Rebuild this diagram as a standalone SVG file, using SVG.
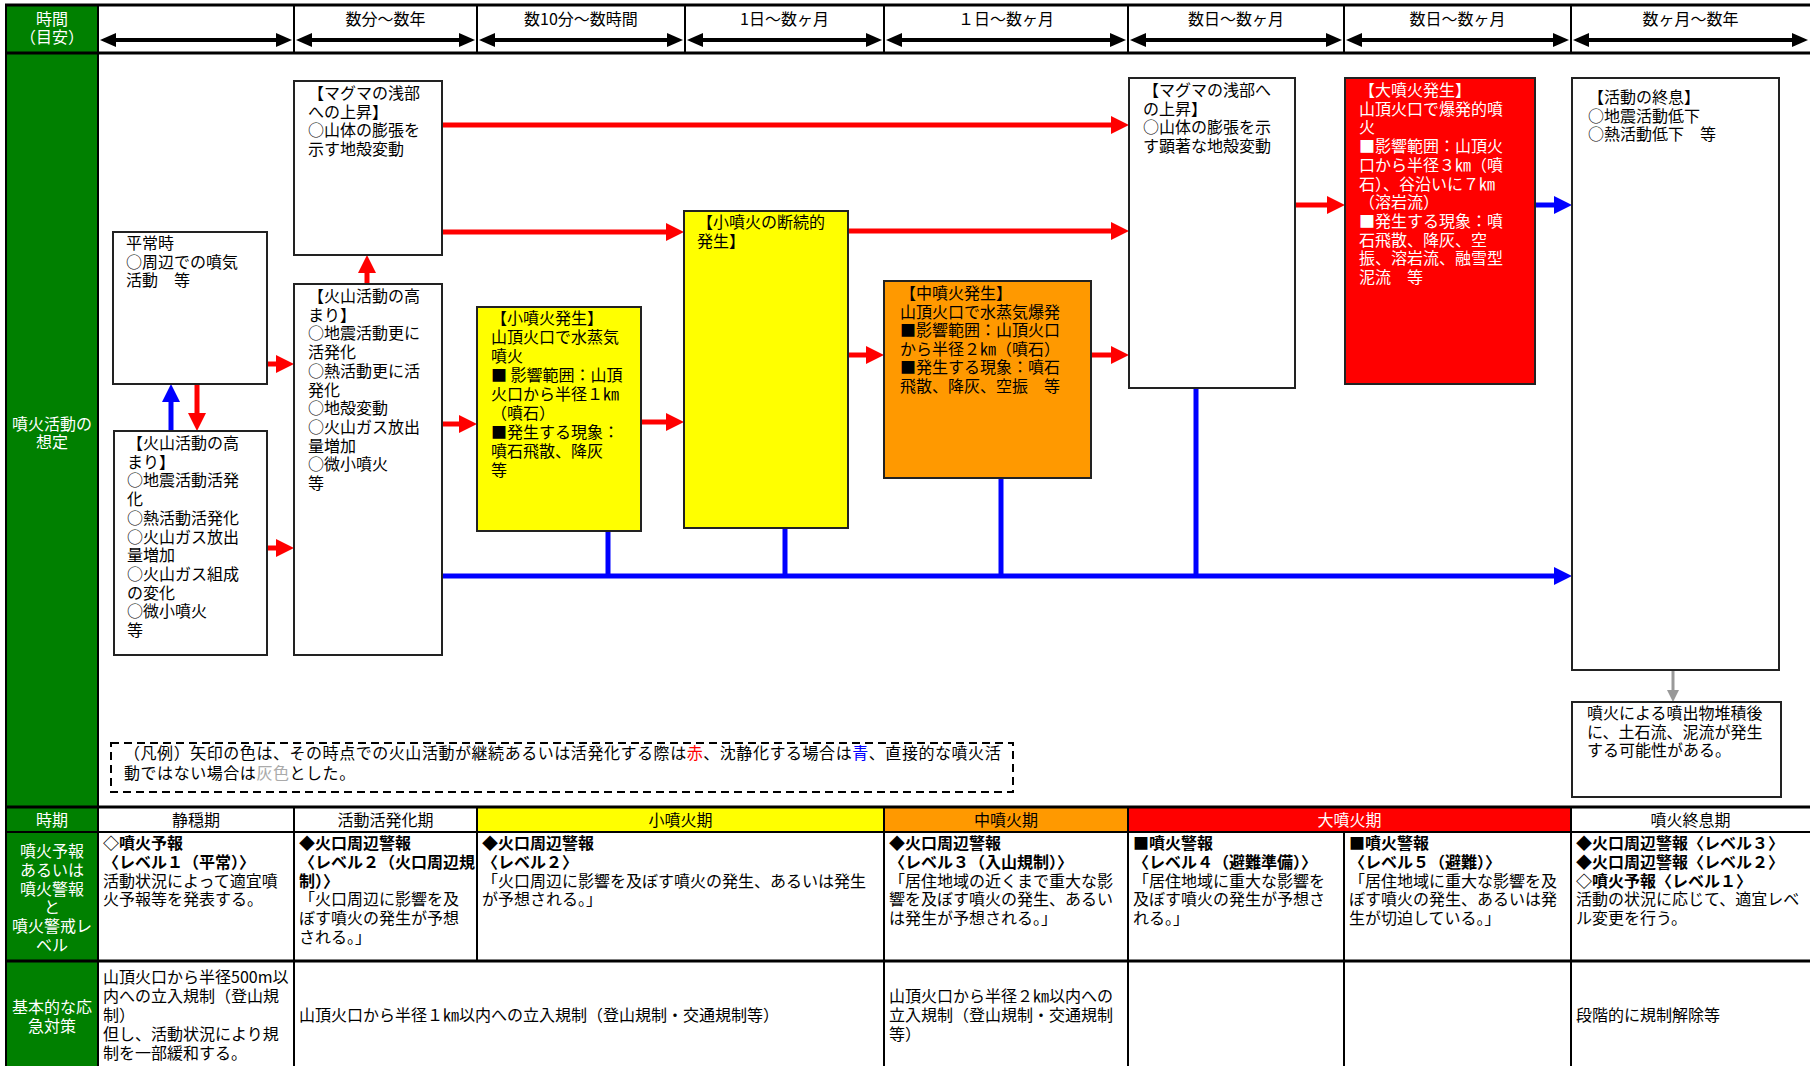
<svg xmlns="http://www.w3.org/2000/svg" width="1810" height="1066" viewBox="0 0 1810 1066">
<style>
text{font-family:"Noto Sans CJK JP","Noto Sans CJK SC",sans-serif;font-size:16px;fill:#000}
.w{fill:#fff}
.b{font-weight:bold}
.c{text-anchor:middle}
.box{stroke:#222;stroke-width:2}
.grid{stroke:#000;fill:none}
.r{stroke:#f00;stroke-width:5;fill:none}
.bl{stroke:#00f;stroke-width:5;fill:none}
.k{stroke:#000;stroke-width:4;fill:none}
.g{stroke:#999;stroke-width:3;fill:none}
.ra{marker-end:url(#arrR)}
.ba{marker-end:url(#arrB)}
</style>
<defs>
<marker id="arrR" markerUnits="userSpaceOnUse" markerWidth="18" markerHeight="18" refX="6" refY="9" orient="auto"><path d="M0,0 L18,9 L0,18 z" fill="#f00"/></marker>
<marker id="arrB" markerUnits="userSpaceOnUse" markerWidth="18" markerHeight="18" refX="6" refY="9" orient="auto"><path d="M0,0 L18,9 L0,18 z" fill="#00f"/></marker>
<marker id="arrG" markerUnits="userSpaceOnUse" markerWidth="12" markerHeight="12" refX="4" refY="6" orient="auto"><path d="M0,0 L12,6 L0,12 z" fill="#999"/></marker>
<marker id="arrK" markerUnits="userSpaceOnUse" markerWidth="16" markerHeight="14" refX="6" refY="7" orient="auto-start-reverse"><path d="M0,0 L16,7 L0,14 z" fill="#000"/></marker>
</defs>
<rect width="1810" height="1066" fill="#fff"/>

<g id="table">
<rect x="6" y="5" width="92" height="1061" fill="#008000"/>
<rect x="477" y="807" width="407" height="25" fill="#ff0"/>
<rect x="884" y="807" width="244" height="25" fill="#f90"/>
<rect x="1128" y="807" width="443" height="25" fill="#f00"/>
<g class="grid">
<line x1="5" y1="5" x2="1810" y2="5" stroke-width="3"/>
<line x1="5" y1="53" x2="1810" y2="53" stroke-width="3"/>
<line x1="5" y1="807" x2="1810" y2="807" stroke-width="3"/>
<line x1="5" y1="832" x2="1810" y2="832" stroke-width="2"/>
<line x1="5" y1="961" x2="1810" y2="961" stroke-width="3"/>
<line x1="6" y1="5" x2="6" y2="1066" stroke-width="2"/>
<line x1="98" y1="5" x2="98" y2="1066" stroke-width="2"/>
<line x1="294" y1="5" x2="294" y2="53" stroke-width="2"/>
<line x1="477" y1="5" x2="477" y2="53" stroke-width="2"/>
<line x1="685" y1="5" x2="685" y2="53" stroke-width="2"/>
<line x1="884" y1="5" x2="884" y2="53" stroke-width="2"/>
<line x1="1128" y1="5" x2="1128" y2="53" stroke-width="2"/>
<line x1="1344" y1="5" x2="1344" y2="53" stroke-width="2"/>
<line x1="1571" y1="5" x2="1571" y2="53" stroke-width="2"/>
<line x1="294" y1="807" x2="294" y2="1066" stroke-width="2"/>
<line x1="477" y1="807" x2="477" y2="961" stroke-width="2"/>
<line x1="884" y1="807" x2="884" y2="1066" stroke-width="2"/>
<line x1="1128" y1="807" x2="1128" y2="1066" stroke-width="2"/>
<line x1="1344" y1="832" x2="1344" y2="1066" stroke-width="2"/>
<line x1="1571" y1="807" x2="1571" y2="1066" stroke-width="2"/>
</g>
<g class="k">
<line x1="110" y1="40" x2="282" y2="40" marker-start="url(#arrK)" marker-end="url(#arrK)"/>
<line x1="306" y1="40" x2="465" y2="40" marker-start="url(#arrK)" marker-end="url(#arrK)"/>
<line x1="489" y1="40" x2="673" y2="40" marker-start="url(#arrK)" marker-end="url(#arrK)"/>
<line x1="697" y1="40" x2="872" y2="40" marker-start="url(#arrK)" marker-end="url(#arrK)"/>
<line x1="896" y1="40" x2="1116" y2="40" marker-start="url(#arrK)" marker-end="url(#arrK)"/>
<line x1="1140" y1="40" x2="1332" y2="40" marker-start="url(#arrK)" marker-end="url(#arrK)"/>
<line x1="1356" y1="40" x2="1559" y2="40" marker-start="url(#arrK)" marker-end="url(#arrK)"/>
<line x1="1583" y1="40" x2="1798" y2="40" marker-start="url(#arrK)" marker-end="url(#arrK)"/>
</g>
<text class="w c" x="52" y="25">時間</text>
<text class="w c" x="52" y="43">（目安）</text>
<text class="c" x="385.5" y="25">数分～数年</text>
<text class="c" x="581" y="25">数10分～数時間</text>
<text class="c" x="784.5" y="25">1日～数ヶ月</text>
<text class="c" x="1006" y="25">１日～数ヶ月</text>
<text class="c" x="1236" y="25">数日～数ヶ月</text>
<text class="c" x="1457.5" y="25">数日～数ヶ月</text>
<text class="c" x="1690.5" y="25">数ヶ月～数年</text>

<text class="w c" x="52" y="430">噴火活動の</text>
<text class="w c" x="52" y="448">想定</text>

<text class="w c" x="52" y="826">時期</text>
<text class="c" x="196" y="826">静穏期</text>
<text class="c" x="385.5" y="826">活動活発化期</text>
<text class="c" x="680.5" y="826">小噴火期</text>
<text class="c" x="1006" y="826">中噴火期</text>
<text class="w c" x="1349.5" y="826">大噴火期</text>
<text class="c" x="1690.5" y="826">噴火終息期</text>

<text class="w c" x="52" y="857">噴火予報<tspan x="52" dy="18.8">あるいは</tspan><tspan x="52" dy="18.8">噴火警報</tspan><tspan x="52" dy="18.8">と</tspan><tspan x="52" dy="18.8">噴火警戒レ</tspan><tspan x="52" dy="18.8">ベル</tspan></text>
<text x="103" y="849"><tspan class="b">◇噴火予報</tspan><tspan class="b" x="103" dy="18.8">〈レベル１（平常）〉</tspan><tspan x="103" dy="18.8">活動状況によって適宜噴</tspan><tspan x="103" dy="18.8">火予報等を発表する。</tspan></text>
<text x="299" y="849"><tspan class="b">◆火口周辺警報</tspan><tspan class="b" x="299" dy="18.8">〈レベル２（火口周辺規</tspan><tspan class="b" x="299" dy="18.8">制）〉</tspan><tspan x="299" dy="18.8">「火口周辺に影響を及</tspan><tspan x="299" dy="18.8">ぼす噴火の発生が予想</tspan><tspan x="299" dy="18.8">される。」</tspan></text>
<text x="482" y="849"><tspan class="b">◆火口周辺警報</tspan><tspan class="b" x="482" dy="18.8">〈レベル２〉</tspan><tspan x="482" dy="18.8">「火口周辺に影響を及ぼす噴火の発生、あるいは発生</tspan><tspan x="482" dy="18.8">が予想される。」</tspan></text>
<text x="889" y="849"><tspan class="b">◆火口周辺警報</tspan><tspan class="b" x="889" dy="18.8">〈レベル３（入山規制）〉</tspan><tspan x="889" dy="18.8">「居住地域の近くまで重大な影</tspan><tspan x="889" dy="18.8">響を及ぼす噴火の発生、あるい</tspan><tspan x="889" dy="18.8">は発生が予想される。」</tspan></text>
<text x="1133" y="849"><tspan class="b">■噴火警報</tspan><tspan class="b" x="1133" dy="18.8">〈レベル４（避難準備）〉</tspan><tspan x="1133" dy="18.8">「居住地域に重大な影響を</tspan><tspan x="1133" dy="18.8">及ぼす噴火の発生が予想さ</tspan><tspan x="1133" dy="18.8">れる。」</tspan></text>
<text x="1349" y="849"><tspan class="b">■噴火警報</tspan><tspan class="b" x="1349" dy="18.8">〈レベル５（避難）〉</tspan><tspan x="1349" dy="18.8">「居住地域に重大な影響を及</tspan><tspan x="1349" dy="18.8">ぼす噴火の発生、あるいは発</tspan><tspan x="1349" dy="18.8">生が切迫している。」</tspan></text>
<text x="1576" y="849"><tspan class="b">◆火口周辺警報〈レベル３〉</tspan><tspan class="b" x="1576" dy="18.8">◆火口周辺警報〈レベル２〉</tspan><tspan class="b" x="1576" dy="18.8">◇噴火予報〈レベル１〉</tspan><tspan x="1576" dy="18.8">活動の状況に応じて、適宜レベ</tspan><tspan x="1576" dy="18.8">ル変更を行う。</tspan></text>

<text class="w c" x="52" y="1013">基本的な応<tspan x="52" dy="18.8">急対策</tspan></text>
<text x="103" y="983">山頂火口から半径500m以<tspan x="103" dy="18.9">内への立入規制（登山規</tspan><tspan x="103" dy="18.9">制）</tspan><tspan x="103" dy="18.9">但し、活動状況により規</tspan><tspan x="103" dy="18.9">制を一部緩和する。</tspan></text>
<text x="299" y="1021">山頂火口から半径１㎞以内への立入規制（登山規制・交通規制等）</text>
<text x="889" y="1002">山頂火口から半径２㎞以内への<tspan x="889" dy="18.9">立入規制（登山規制・交通規制</tspan><tspan x="889" dy="18.9">等）</tspan></text>
<text x="1576" y="1021">段階的に規制解除等</text>
</g>

<g id="connectors">
<line class="r ra" x1="442" y1="125" x2="1117" y2="125"/>
<line class="r ra" x1="442" y1="232" x2="672" y2="232"/>
<line class="r ra" x1="848" y1="231" x2="1117" y2="231"/>
<line class="r ra" x1="1091" y1="355" x2="1117" y2="355"/>
<line class="r ra" x1="1295" y1="205" x2="1333" y2="205"/>
<line class="bl ba" x1="1535" y1="205" x2="1560" y2="205"/>
<line class="r ra" x1="267" y1="364" x2="282" y2="364"/>
<line class="r ra" x1="267" y1="548" x2="282" y2="548"/>
<line class="r ra" x1="442" y1="424" x2="465" y2="424"/>
<line class="r ra" x1="641" y1="422" x2="672" y2="422"/>
<line class="r ra" x1="848" y1="355" x2="872" y2="355"/>
<line class="r ra" x1="367" y1="284" x2="367" y2="267"/>
<line class="bl ba" x1="171" y1="431" x2="171" y2="396"/>
<line class="r ra" x1="197" y1="384" x2="197" y2="419"/>
<line class="bl" x1="608" y1="531" x2="608" y2="578"/>
<line class="bl" x1="785" y1="528" x2="785" y2="578"/>
<line class="bl" x1="1001" y1="478" x2="1001" y2="578"/>
<line class="bl" x1="1196" y1="388" x2="1196" y2="578"/>
<line class="bl ba" x1="442" y1="576" x2="1560" y2="576"/>
<line class="g" x1="1673" y1="670" x2="1673" y2="694" marker-end="url(#arrG)"/>
</g>

<g id="n-heijo">
<rect class="box" x="113" y="232" width="154" height="152" fill="#fff"/>
<text x="126" y="249">平常時<tspan x="126" dy="18.7">○周辺での噴気</tspan><tspan x="126" dy="18.7">活動　等</tspan></text>
</g>
<g id="n-takamari1">
<rect class="box" x="114" y="431" width="153" height="224" fill="#fff"/>
<text x="127" y="449">【火山活動の高<tspan x="127" dy="18.7">まり】</tspan><tspan x="127" dy="18.7">○地震活動活発</tspan><tspan x="127" dy="18.7">化</tspan><tspan x="127" dy="18.7">○熱活動活発化</tspan><tspan x="127" dy="18.7">○火山ガス放出</tspan><tspan x="127" dy="18.7">量増加</tspan><tspan x="127" dy="18.7">○火山ガス組成</tspan><tspan x="127" dy="18.7">の変化</tspan><tspan x="127" dy="18.7">○微小噴火</tspan><tspan x="127" dy="18.7">等</tspan></text>
</g>
<g id="n-magma1">
<rect class="box" x="294" y="81" width="148" height="174" fill="#fff"/>
<text x="308" y="99">【マグマの浅部<tspan x="308" dy="18.7">への上昇】</tspan><tspan x="308" dy="18.7">○山体の膨張を</tspan><tspan x="308" dy="18.7">示す地殻変動</tspan></text>
</g>
<g id="n-takamari2">
<rect class="box" x="294" y="284" width="148" height="371" fill="#fff"/>
<text x="308" y="302">【火山活動の高<tspan x="308" dy="18.7">まり】</tspan><tspan x="308" dy="18.7">○地震活動更に</tspan><tspan x="308" dy="18.7">活発化</tspan><tspan x="308" dy="18.7">○熱活動更に活</tspan><tspan x="308" dy="18.7">発化</tspan><tspan x="308" dy="18.7">○地殻変動</tspan><tspan x="308" dy="18.7">○火山ガス放出</tspan><tspan x="308" dy="18.7">量増加</tspan><tspan x="308" dy="18.7">○微小噴火</tspan><tspan x="308" dy="18.7">等</tspan></text>
</g>
<g id="n-shofunka">
<rect class="box" x="477" y="307" width="164" height="224" fill="#ff0"/>
<text x="491" y="324">【小噴火発生】<tspan x="491" dy="19">山頂火口で水蒸気</tspan><tspan x="491" dy="19">噴火</tspan><tspan x="491" dy="19">■ 影響範囲：山頂</tspan><tspan x="491" dy="19">火口から半径１㎞</tspan><tspan x="491" dy="19">（噴石）</tspan><tspan x="491" dy="19">■発生する現象：</tspan><tspan x="491" dy="19">噴石飛散、降灰</tspan><tspan x="491" dy="19">等</tspan></text>
</g>
<g id="n-danzoku">
<rect class="box" x="684" y="211" width="164" height="317" fill="#ff0"/>
<text x="697" y="228">【小噴火の断続的<tspan x="697" dy="18.7">発生】</tspan></text>
</g>
<g id="n-chufunka">
<rect class="box" x="884" y="281" width="207" height="197" fill="#f90"/>
<text x="900" y="299">【中噴火発生】<tspan x="900" dy="18.6">山頂火口で水蒸気爆発</tspan><tspan x="900" dy="18.6">■影響範囲：山頂火口</tspan><tspan x="900" dy="18.6">から半径２㎞（噴石）</tspan><tspan x="900" dy="18.6">■発生する現象：噴石</tspan><tspan x="900" dy="18.6">飛散、降灰、空振　等</tspan></text>
</g>
<g id="n-magma2">
<rect class="box" x="1129" y="78" width="166" height="310" fill="#fff"/>
<text x="1143" y="96">【マグマの浅部へ<tspan x="1143" dy="18.7">の上昇】</tspan><tspan x="1143" dy="18.7">○山体の膨張を示</tspan><tspan x="1143" dy="18.7">す顕著な地殻変動</tspan></text>
</g>
<g id="n-daifunka">
<rect class="box" x="1345" y="78" width="190" height="306" fill="#f00"/>
<text class="w" x="1359" y="96">【大噴火発生】<tspan x="1359" dy="18.7">山頂火口で爆発的噴</tspan><tspan x="1359" dy="18.7">火</tspan><tspan x="1359" dy="18.7">■影響範囲：山頂火</tspan><tspan x="1359" dy="18.7">口から半径３㎞（噴</tspan><tspan x="1359" dy="18.7">石）、谷沿いに７㎞</tspan><tspan x="1359" dy="18.7">（溶岩流）</tspan><tspan x="1359" dy="18.7">■発生する現象：噴</tspan><tspan x="1359" dy="18.7">石飛散、降灰、空</tspan><tspan x="1359" dy="18.7">振、溶岩流、融雪型</tspan><tspan x="1359" dy="18.7">泥流　等</tspan></text>
</g>
<g id="n-shusoku">
<rect class="box" x="1572" y="78" width="207" height="592" fill="#fff"/>
<text x="1588" y="103">【活動の終息】<tspan x="1588" dy="18.7">○地震活動低下</tspan><tspan x="1588" dy="18.7">○熱活動低下　等</tspan></text>
</g>
<g id="n-dosekiryu">
<rect class="box" x="1572" y="702" width="209" height="95" fill="#fff"/>
<text x="1587" y="719">噴火による噴出物堆積後<tspan x="1587" dy="18.7">に、土石流、泥流が発生</tspan><tspan x="1587" dy="18.7">する可能性がある。</tspan></text>
</g>
<g id="legend">
<rect x="111" y="743" width="902" height="49" fill="none" stroke="#000" stroke-width="2" stroke-dasharray="8,5"/>
<text x="124" y="759" letter-spacing="0.55">（凡例）矢印の色は、その時点での火山活動が継続あるいは活発化する際は<tspan fill="#f00">赤</tspan>、沈静化する場合は<tspan fill="#00f">青</tspan>、直接的な噴火活</text>
<text x="124" y="779" letter-spacing="0.55">動ではない場合は<tspan fill="#aaa">灰色</tspan>とした。</text>
</g>
</svg>
